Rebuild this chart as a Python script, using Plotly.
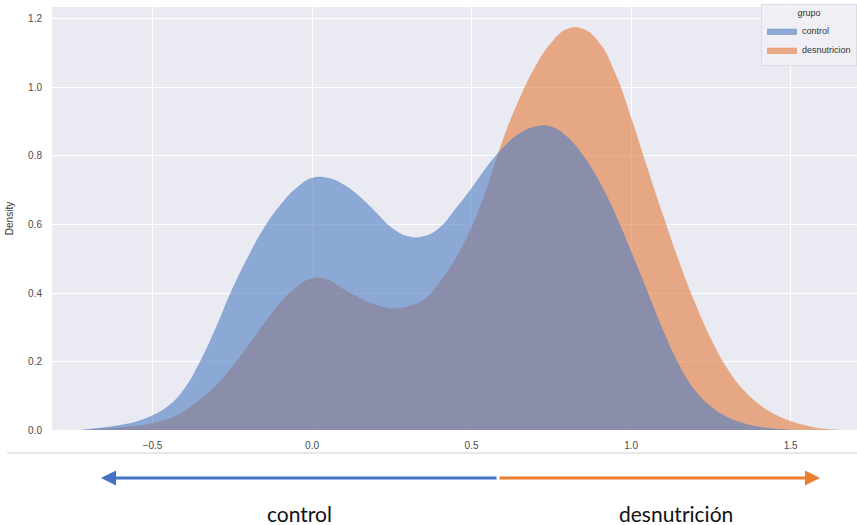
import plotly.graph_objects as go

# Kernel density estimates per group, sampled every 0.05
control_x = [-0.72, -0.70, -0.65, -0.60, -0.55, -0.50, -0.45, -0.40, -0.35, -0.30, -0.25,
             -0.20, -0.15, -0.10, -0.05, 0.00, 0.05, 0.10, 0.15, 0.20, 0.25, 0.30, 0.35,
             0.40, 0.45, 0.50, 0.55, 0.60, 0.65, 0.70, 0.75, 0.80, 0.85, 0.90, 0.95, 1.00,
             1.05, 1.10, 1.15, 1.20, 1.25, 1.30, 1.35, 1.40, 1.45, 1.50]
density_control = [0.0, 0.002, 0.007, 0.014, 0.024, 0.042, 0.07, 0.12, 0.20, 0.30, 0.41,
                   0.505, 0.59, 0.655, 0.705, 0.735, 0.735, 0.715, 0.68, 0.635, 0.59, 0.565, 0.565,
                   0.59, 0.645, 0.705, 0.77, 0.825, 0.865, 0.885, 0.885, 0.855, 0.80, 0.725, 0.63, 0.52,
                   0.405, 0.29, 0.19, 0.115, 0.068, 0.038, 0.02, 0.009, 0.003, 0.0]

desnutricion_x = [-0.70, -0.65, -0.60, -0.55, -0.50, -0.45, -0.40, -0.35, -0.30, -0.25,
                  -0.20, -0.15, -0.10, -0.05, 0.00, 0.05, 0.10, 0.15, 0.20, 0.25, 0.30, 0.35,
                  0.40, 0.45, 0.50, 0.55, 0.60, 0.65, 0.70, 0.75, 0.80, 0.85, 0.90, 0.95, 1.00,
                  1.05, 1.10, 1.15, 1.20, 1.25, 1.30, 1.35, 1.40, 1.45, 1.50, 1.55, 1.60, 1.65]
density_desnutricion = [0.0, 0.003, 0.007, 0.012, 0.019, 0.032, 0.055, 0.09, 0.13, 0.185,
                        0.245, 0.31, 0.37, 0.415, 0.442, 0.438, 0.41, 0.385, 0.365, 0.355, 0.36, 0.38,
                        0.43, 0.50, 0.59, 0.71, 0.85, 0.965, 1.06, 1.13, 1.17, 1.17, 1.13, 1.04, 0.91,
                        0.765, 0.625, 0.49, 0.37, 0.265, 0.18, 0.118, 0.075, 0.045, 0.025, 0.012, 0.003, 0.0]

group_names = ["control", "desnutricion"]
x_ticks = [-0.5, 0.0, 0.5, 1.0, 1.5]
y_ticks = [0.0, 0.2, 0.4, 0.6, 0.8, 1.0, 1.2]
arrow_labels = ["control", "desnutrición"]

W, H = 857, 525
BG = "#eaeaf2"
SANS = "Liberation Sans, Arial, sans-serif"
TICK_FONT = dict(family=SANS, size=10, color="#4a4a4a")


def px_x(p):
    return p / W


def px_y(p):
    return 1 - p / H


fig = go.Figure()

# orange layer first so the blue layer sits on top
fig.add_trace(go.Scatter(
    x=desnutricion_x, y=density_desnutricion, name=group_names[1],
    mode="lines", line=dict(color="rgba(228,126,66,0.62)", width=0.5, shape="spline", smoothing=1.3),
    fill="tozeroy", fillcolor="rgba(228,126,66,0.62)", legendrank=2,
))
fig.add_trace(go.Scatter(
    x=control_x, y=density_control, name=group_names[0],
    mode="lines", line=dict(color="rgba(82,128,194,0.62)", width=0.5, shape="spline", smoothing=1.3),
    fill="tozeroy", fillcolor="rgba(82,128,194,0.62)", legendrank=1,
))

fig.update_layout(
    width=W, height=H,
    margin=dict(l=0, r=0, t=0, b=0),
    paper_bgcolor="white",
    plot_bgcolor=BG,
    showlegend=True,
    legend=dict(
        title=dict(text="grupo", side="top center", font=dict(family=SANS, size=9, color="#333")),
        font=dict(family=SANS, size=9, color="#333"),
        x=1.0, xanchor="right", y=0.993, yanchor="top",
        bgcolor="rgba(240,240,246,0.85)", bordercolor="#dcdce4", borderwidth=1,
        itemwidth=30, tracegroupgap=0,
    ),
    xaxis=dict(
        domain=[px_x(52), 1.0],
        range=[-0.815, 1.708],
        tickvals=x_ticks, tickformat=".1f",
        showgrid=True, gridcolor="white", gridwidth=1,
        zeroline=False, showline=False,
        ticks="", ticklabelstandoff=8,
        tickfont=TICK_FONT,
        automargin=False,
    ),
    yaxis=dict(
        domain=[px_y(430), px_y(7)],
        range=[0, 1.235],
        tickvals=y_ticks, tickformat=".1f",
        showgrid=True, gridcolor="white", gridwidth=1,
        zeroline=False, showline=False,
        ticks="", ticklabelstandoff=9,
        tickfont=TICK_FONT,
        title=dict(text="Density", standoff=12, font=dict(family=SANS, size=10, color="#333")),
        automargin=False,
    ),
)

# separator under the axis
fig.add_shape(type="line", xref="paper", yref="paper",
              x0=px_x(7), x1=1.0, y0=px_y(453), y1=px_y(453),
              line=dict(color="#cfcfd4", width=1))

# two-coloured direction arrow
fig.add_annotation(x=px_x(101), y=px_y(478), xref="paper", yref="paper",
                   ax=397, ay=0, text="", showarrow=True,
                   arrowhead=2, arrowsize=1.0, arrowwidth=3, arrowcolor="#4472c4")
fig.add_annotation(x=px_x(820), y=px_y(478), xref="paper", yref="paper",
                   ax=-322, ay=0, text="", showarrow=True,
                   arrowhead=2, arrowsize=1.0, arrowwidth=3, arrowcolor="#ed7d31")

label_font = dict(family="Lato, 'Open Sans', sans-serif", size=21, color="#111", weight=400)
fig.add_annotation(x=px_x(299), y=px_y(513), xref="paper", yref="paper",
                   xanchor="center", yanchor="middle",
                   text=arrow_labels[0], showarrow=False, font=label_font)
fig.add_annotation(x=px_x(676), y=px_y(513), xref="paper", yref="paper",
                   xanchor="center", yanchor="middle",
                   text=arrow_labels[1], showarrow=False, font=label_font)

fig.write_html("out.html")
